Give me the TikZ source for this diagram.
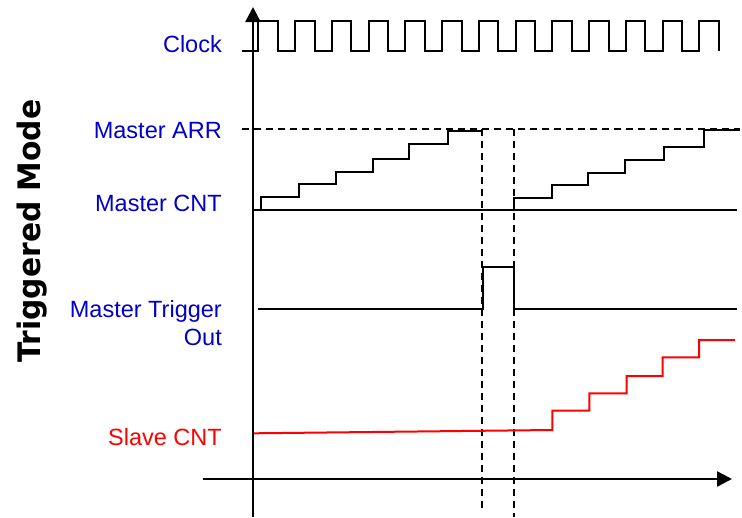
\documentclass[tikz,border=0pt]{standalone}
\usepackage{fontspec}
\setmainfont{Liberation Sans}
\setsansfont{DejaVu Sans}
\usetikzlibrary{arrows.meta}
\definecolor{lblblue}{RGB}{0,0,200}
\definecolor{slavered}{RGB}{255,0,0}

\begin{document}
\begin{tikzpicture}[x=1pt,y=-1pt,
  sig/.style={line width=2pt,line join=miter},
  guide/.style={line width=2pt,dash pattern=on 7pt off 5pt},
  axis/.style={line width=2.4pt,-{Triangle[length=15pt,width=15pt]}},
  lbl/.style={anchor=base east,text=lblblue,font=\fontsize{23.5}{28}\selectfont,inner sep=0pt,align=right}]
\useasboundingbox (0,0) rectangle (742,517);
% axes
\coordinate (yfoot) at (253,517);
\coordinate (ytip) at (253,7);
\coordinate (xfoot) at (203,479);
\coordinate (xtip) at (732,479);
\draw[axis] (yfoot) -- (ytip);
\draw[axis] (xfoot) -- (xtip);
% labels
\node[lbl] (clk) at (222,52) {Clock};
\node[lbl] (arr) at (222,138.5) {Master ARR};
\node[lbl] (cnt) at (222,211.5) {Master CNT};
\node[lbl,anchor=north east] (trg) at (222,300.5) {Master Trigger\\Out};
\node[lbl,text=slavered] (scnt) at (222,445) {Slave CNT};
\node[rotate=90,inner sep=0pt] (mode) at (32,231)
  {\scalebox{0.96}[1]{\sffamily\bfseries\fontsize{31}{31}\selectfont Triggered Mode}};
% clock
\draw[sig] (242,51) \foreach \k in {0,...,12}{
  -- ({258.3+36.75*\k},51) -- ({258.3+36.75*\k},21) -- ({277.8+36.75*\k},21) -- ({277.8+36.75*\k},51)};
% master counter
\draw[guide] (242,129.3) -- (740,129.3);
\draw[sig] (253,210) -- (737,210);
\draw[sig] (261,210) -- (261,197.3) -- (299,197.3) -- (299,184) -- (336,184) -- (336,171.7)
  -- (372.7,171.7) -- (372.7,159) -- (409.3,159) -- (409.3,144.3) -- (447.7,144.3) -- (447.7,130.7) -- (482.3,130.7);
\draw[sig] (514,210) -- (514,198.3) -- (551.7,198.3) -- (551.7,185.3) -- (588.3,185.3) -- (588.3,172.7)
  -- (625,172.7) -- (625,160) -- (664,160) -- (664,147.3) -- (704.3,147.3) -- (704.3,130) -- (740,130);
\draw[guide] (482.3,129.3) -- (482.3,512);
\draw[guide] (514,129.3) -- (514,517);
% trigger out
\draw[sig] (258,308.7) -- (483.3,308.7) -- (483.3,267.3) -- (514,267.3) -- (514,308.7) -- (737,308.7);
% slave counter
\draw[sig,slavered] (254,433.3) -- (552.3,430) -- (552.3,410.7) -- (589.3,410.7) -- (589.3,393.3) -- (626.7,393.3)
  -- (626.7,376) -- (662.7,376) -- (662.7,357.3) -- (699,357.3) -- (699,340) -- (735,340);
\end{tikzpicture}
\end{document}
